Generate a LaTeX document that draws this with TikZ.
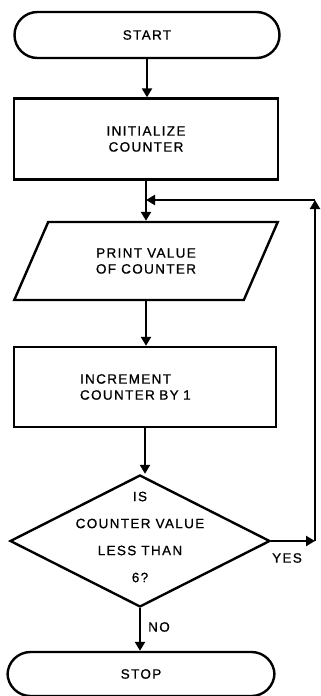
\documentclass[tikz,border=0pt]{standalone}
\usepackage{fontspec}
\setmainfont{Liberation Sans}[LetterSpace=10, FakeBold=0.8]
\usetikzlibrary{arrows.meta, positioning, shapes.geometric}

\tikzset{
  flowline/.style={line width=2.6pt, -{Triangle[length=9pt,width=10pt]}},
  terminal/.style={draw, line width=2.4pt, rounded corners=23pt, minimum width=265pt, minimum height=46pt},
  process/.style={draw, line width=2.4pt, minimum width=264pt, minimum height=81pt, align=center},
  io/.style={draw, line width=2.4pt, trapezium, trapezium left angle=60, trapezium right angle=120,
    trapezium stretches=true, minimum width=264pt, minimum height=78pt, align=center},
  decision/.style={draw, line width=2.4pt, diamond, aspect=2, minimum width=260pt, minimum height=132pt,
    inner sep=0pt},
}

\begin{document}
\begin{tikzpicture}[x=1pt, y=-1pt, font=\fontsize{13.5}{16}\selectfont]
    \useasboundingbox (0,0) rectangle (321,696);

    % Steps of the flow
    \node[terminal] (start) at (147,35) {START};
    \node[process] (init) at (146,139) {INITIALIZE\\COUNTER};
    \node[io] (print) at (146,261) {PRINT VALUE\\OF COUNTER};
    \node[process, align=left, text width=130pt, minimum width=262pt, minimum height=80pt] (incr) at (145,387) {INCREMENT\\COUNTER BY 1};
    \node[decision] (test) at (140,541) {};
    \node[align=center] (testtext) at (140,537) {IS\\[11pt]COUNTER VALUE\\[11pt]LESS THAN\\[11pt]6?};
    \node[terminal, minimum width=267pt, minimum height=44pt] (stop) at (141,674) {STOP};

    % Loop corners
    \coordinate (join) at (146,200);
    \coordinate (loopcorner) at (315,200);
    \coordinate (yescorner) at (315,541);

    % Main line down
    \draw[flowline] (start.south) -- (start.south |- init.north);
    \draw[flowline] (init.south) -- (init.south |- print.north);
    \draw[flowline] (print.south) -- (print.south |- incr.north);
    \draw[flowline] (incr.south) -- (incr.south |- test.north);
    \draw[flowline] (test.south) -- (test.south |- stop.north);

    % Loop back
    \draw[flowline] (test.east) -- (yescorner);
    \draw[flowline] (yescorner) -- (loopcorner);
    \draw[flowline] (loopcorner) -- (join);

    % Branch labels
    \node (yes) at (287,558) {YES};
    \node (no) at (159,627) {NO};
\end{tikzpicture}
\end{document}
